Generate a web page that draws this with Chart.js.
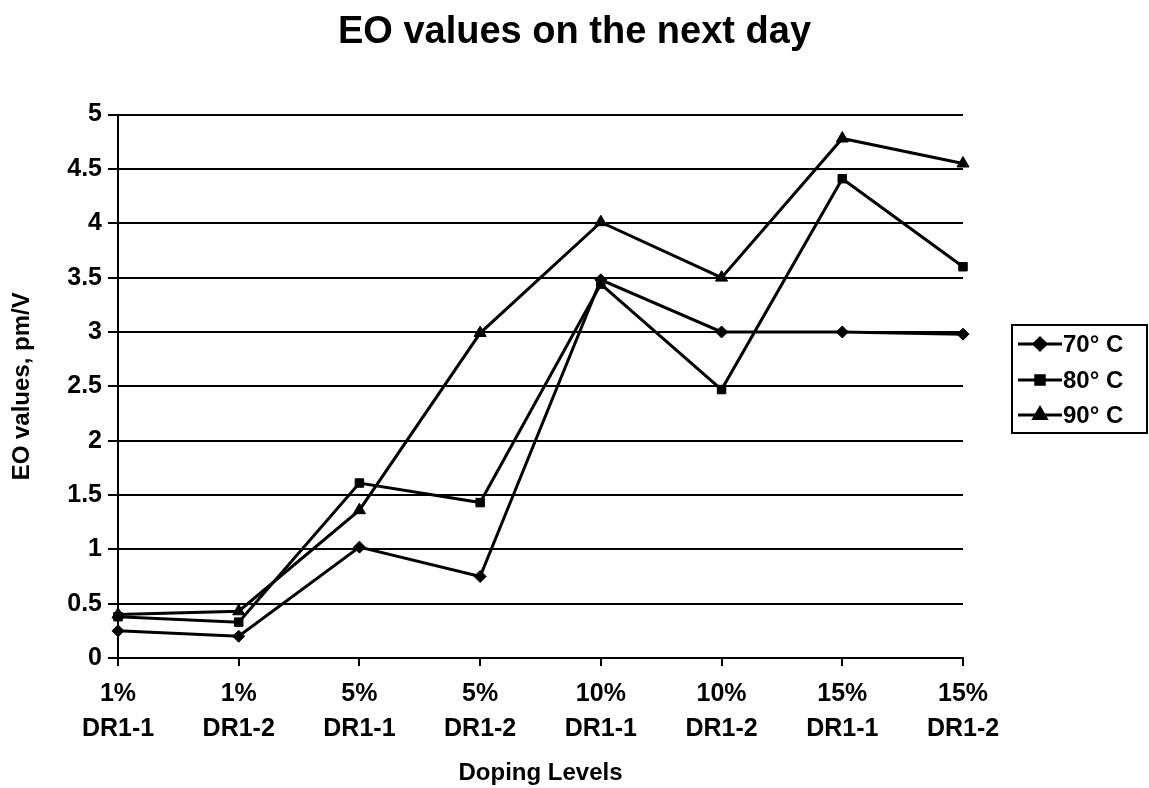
<!DOCTYPE html>
<html>
<head>
<meta charset="utf-8">
<title>EO values on the next day</title>
<script src="https://cdn.jsdelivr.net/npm/chart.js@4/dist/chart.umd.min.js"></script>
<style>
  html, body { margin: 0; padding: 0; background: #fff; }
  #wrap { width: 1149px; height: 788px; }
</style>
</head>
<body>
<div id="wrap"><canvas id="eoChart"></canvas></div>
<script>
const categories = [["1%", "DR1-1"], ["1%", "DR1-2"], ["5%", "DR1-1"], ["5%", "DR1-2"],
                    ["10%", "DR1-1"], ["10%", "DR1-2"], ["15%", "DR1-1"], ["15%", "DR1-2"]];
const seriesNames = ["70° C", "80° C", "90° C"];
const values70 = [0.25, 0.20, 1.02, 0.75, 3.48, 3.00, 3.00, 2.98];
const values80 = [0.38, 0.33, 1.61, 1.43, 3.44, 2.47, 4.41, 3.60];
const values90 = [0.40, 0.43, 1.36, 2.99, 4.01, 3.50, 4.78, 4.55];
const yTicks = { min: 0, max: 5, step: 0.5 };

const FONT = '"Liberation Sans", Arial, Helvetica, sans-serif';
Chart.defaults.font.family = FONT;
Chart.defaults.color = "#000";

function series(label, data, pointStyle, radius) {
  return {
    label, data, pointStyle,
    borderColor: "#000", backgroundColor: "#000",
    borderWidth: 3, pointRadius: radius, pointBorderWidth: 1,
    pointBackgroundColor: "#000", pointBorderColor: "#000",
    tension: 0, clip: false
  };
}

// boxed legend on the right: short line with the marker in the middle, then the name
const boxLegend = {
  id: "boxLegend",
  afterDraw(chart) {
    const ctx = chart.ctx;
    const box = { x: 1012, y: 325, w: 135, h: 108 };
    const rows = [344, 380, 415];
    ctx.save();
    ctx.strokeStyle = "#000";
    ctx.lineWidth = 2;
    ctx.strokeRect(box.x, box.y, box.w, box.h);
    chart.data.datasets.forEach((ds, i) => {
      const y = rows[i];
      ctx.lineWidth = 3;
      ctx.beginPath();
      ctx.moveTo(box.x + 6, y);
      ctx.lineTo(box.x + 50, y);
      ctx.stroke();
      ctx.fillStyle = "#000";
      Chart.helpers.drawPoint(ctx, { pointStyle: ds.pointStyle, radius: ds.pointRadius, rotation: 0, borderWidth: 1 }, box.x + 28, y);
      ctx.font = "bold 24px " + FONT;
      ctx.textAlign = "left";
      ctx.textBaseline = "middle";
      ctx.fillText(ds.label, box.x + 51, y + 1);
    });
    ctx.restore();
  }
};

new Chart(document.getElementById("eoChart"), {
  type: "line",
  data: {
    labels: categories,
    datasets: [
      series(seriesNames[0], values70, "rectRot", 6),
      series(seriesNames[1], values80, "rect", 6),
      series(seriesNames[2], values90, "triangle", 7)
    ]
  },
  options: {
    responsive: true,
    maintainAspectRatio: false,
    animation: false,
    layout: { padding: 0 },
    plugins: {
      legend: { display: false },
      tooltip: { enabled: false },
      title: {
        display: true,
        text: "EO values on the next day",
        font: { size: 38, weight: "bold" },
        color: "#000",
        padding: { top: 10, bottom: 59 }
      }
    },
    scales: {
      x: {
        offset: false,
        afterFit: s => { s.height = 130; },
        border: { display: true, color: "#000", width: 2 },
        grid: { display: true, drawOnChartArea: false, drawTicks: true, tickLength: 8, color: "#000", lineWidth: 2 },
        ticks: { font: { size: 25, weight: "bold", lineHeight: 1.4 }, color: "#000", padding: 11, maxRotation: 0, autoSkip: false },
        title: { display: true, text: "Doping Levels", font: { size: 24, weight: "bold" }, color: "#000", padding: { top: 4, bottom: 0 } }
      },
      y: {
        min: yTicks.min,
        max: yTicks.max,
        afterFit: s => { s.width = 118; },
        border: { display: true, color: "#000", width: 2 },
        grid: { color: "#000", lineWidth: 2, tickLength: 10 },
        ticks: { stepSize: yTicks.step, font: { size: 25, weight: "bold" }, color: "#000", padding: 6, callback: v => String(v) },
        title: { display: true, text: "EO values, pm/V", font: { size: 24, weight: "bold" }, color: "#000", padding: { top: 8, bottom: 0 } }
      },
      // empty right-hand strip that leaves room for the legend box
      side: {
        type: "linear",
        position: "right",
        afterFit: s => { s.width = 186; },
        border: { display: false },
        grid: { drawOnChartArea: false, drawTicks: false },
        ticks: { display: false }
      }
    }
  },
  plugins: [boxLegend]
});
</script>
</body>
</html>
